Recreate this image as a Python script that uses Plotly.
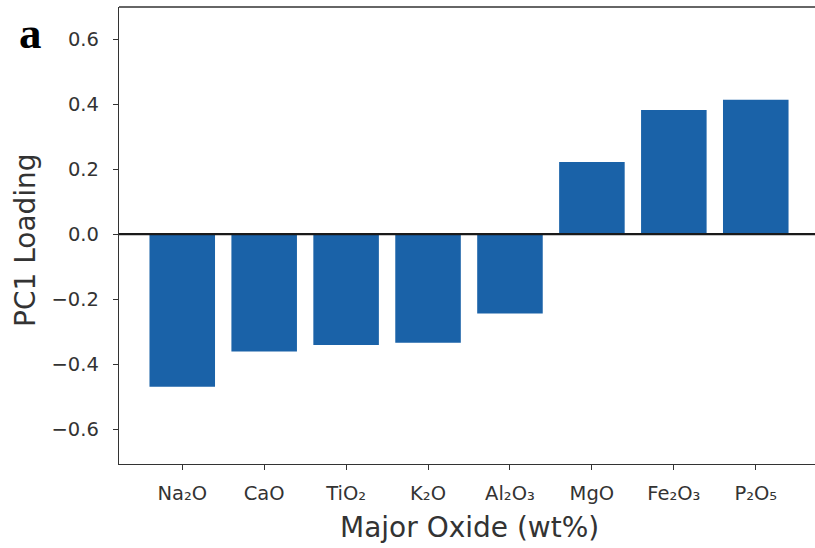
import plotly.graph_objects as go

# PC1 loadings of the major oxides
oxides = ["Na₂O", "CaO", "TiO₂", "K₂O", "Al₂O₃", "MgO", "Fe₂O₃", "P₂O₅"]
pc1_loading = [-0.469, -0.361, -0.341, -0.334, -0.244, 0.222, 0.382, 0.414]

y_tick_vals = [-0.6, -0.4, -0.2, 0.0, 0.2, 0.4, 0.6]
y_tick_text = ["−0.6", "−0.4", "−0.2", "0.0", "0.2", "0.4", "0.6"]

positions = list(range(len(oxides)))

axis_color = "#333333"
text_color = "#333333"
font_family = "DejaVu Sans"

fig = go.Figure(
    go.Bar(
        x=positions,
        y=pc1_loading,
        width=0.8,
        marker=dict(color="#1a62a8", line=dict(width=0)),
    )
)

fig.update_layout(
    width=815,
    height=548,
    margin=dict(l=119, r=0, t=7, b=84),
    paper_bgcolor="white",
    plot_bgcolor="white",
    showlegend=False,
    font=dict(family=font_family, color=text_color),
)

fig.update_xaxes(
    range=[-0.772, 7.723],
    tickmode="array",
    tickvals=positions,
    ticktext=oxides,
    tickfont=dict(size=19.5, color=text_color),
    ticks="outside",
    ticklen=5,
    tickwidth=1.3,
    tickcolor=axis_color,
    showline=True,
    linecolor=axis_color,
    linewidth=1.4,
    mirror=False,
    showgrid=False,
    zeroline=False,
    ticklabelstandoff=6,
)

fig.update_yaxes(
    range=[-0.707, 0.699],
    tickmode="array",
    tickvals=y_tick_vals,
    ticktext=y_tick_text,
    tickfont=dict(size=19.5, color=text_color),
    ticks="outside",
    ticklen=5,
    tickwidth=1.3,
    tickcolor=axis_color,
    showline=True,
    linecolor=axis_color,
    linewidth=1.4,
    mirror=False,
    showgrid=False,
    zeroline=False,
    ticklabelstandoff=10,
)

# top frame edge (the right edge of the frame falls outside the figure)
fig.add_shape(
    type="line",
    xref="x domain", x0=0, x1=1,
    yref="y domain", y0=1, y1=1,
    line=dict(color=axis_color, width=1.4),
    layer="above",
)

# horizontal reference line at zero loading
fig.add_shape(
    type="line",
    xref="x domain", x0=0, x1=1,
    yref="y", y0=0, y1=0,
    line=dict(color="#1a1a1a", width=2.2),
    layer="above",
)

# axis titles and panel letter
fig.add_annotation(
    text="Major Oxide (wt%)",
    xref="paper", yref="paper",
    x=(469 - 119) / (815 - 119), y=-(527 - 464) / (464 - 7),
    xanchor="center", yanchor="middle",
    showarrow=False,
    font=dict(size=28, family=font_family, color=text_color),
)
fig.add_annotation(
    text="PC1 Loading",
    xref="paper", yref="paper",
    x=-(119 - 25) / (815 - 119), y=(464 - 240) / (464 - 7),
    xanchor="center", yanchor="middle",
    textangle=-90,
    showarrow=False,
    font=dict(size=28, family=font_family, color=text_color),
)
fig.add_annotation(
    text="<b>a</b>",
    xref="paper", yref="paper",
    x=-(119 - 30) / (815 - 119), y=(464 - 33) / (464 - 7),
    xanchor="center", yanchor="middle",
    showarrow=False,
    font=dict(size=45, family="Liberation Serif", color="black"),
)

fig.write_html("out.html")
